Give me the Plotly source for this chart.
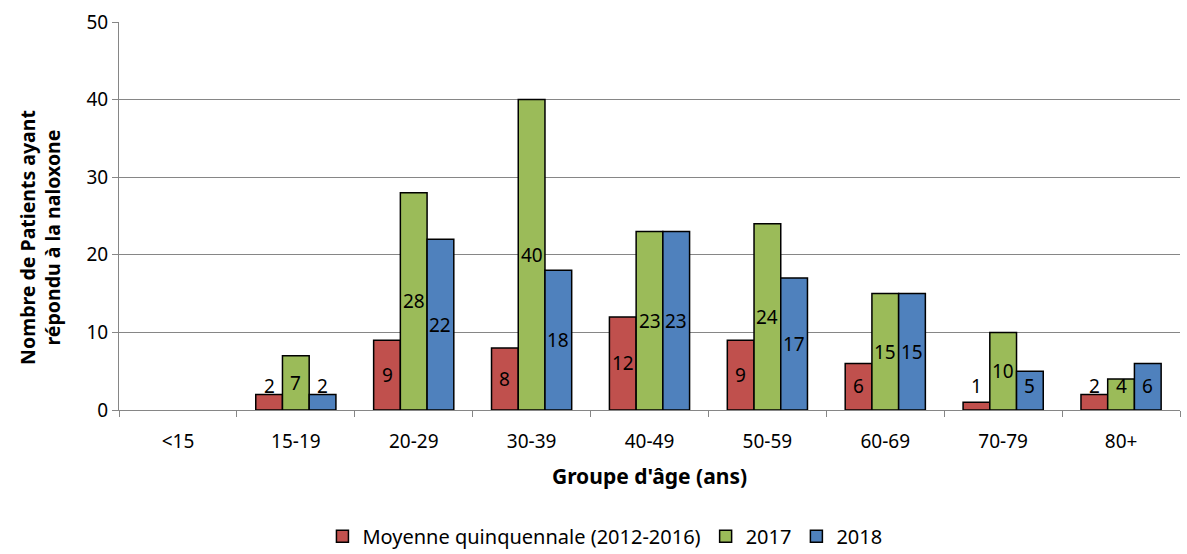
import plotly.graph_objects as go

categories = ["<15", "15-19", "20-29", "30-39", "40-49", "50-59", "60-69", "70-79", "80+"]
moyenne = [None, 2, 9, 8, 12, 9, 6, 1, 2]
y2017 = [None, 7, 28, 40, 23, 24, 15, 10, 4]
y2018 = [None, 2, 22, 18, 23, 17, 15, 5, 6]

series_names = ["Moyenne quinquennale (2012-2016)", "2017", "2018"]
series_values = [moyenne, y2017, y2018]
colors = ["#C0504D", "#9BBB59", "#4F81BD"]

FONT = "Noto Sans, Open Sans, sans-serif"
BARGAP = 0.32

fig = go.Figure()
for name, vals, col in zip(series_names, series_values, colors):
    fig.add_trace(go.Bar(
        x=categories, y=vals, name=name,
        marker=dict(color=col, line=dict(color="#000000", width=1.5)),
        hoverinfo="x+y+name",
    ))

# value labels centred on each bar, kept above the baseline for short bars
bar_w = (1 - BARGAP) / len(series_values)
annotations = []
for s, vals in enumerate(series_values):
    offset = (s - (len(series_values) - 1) / 2) * bar_w
    for i, v in enumerate(vals):
        if v is None:
            continue
        annotations.append(dict(
            x=i + offset, y=max(v / 2, 3.05), xref="x", yref="y",
            text=str(v), showarrow=False,
            font=dict(family=FONT, size=19, color="#000000"),
            xanchor="center", yanchor="middle",
        ))

# vertical y-axis title
annotations.append(dict(
    x=-0.0745, y=0.446, xref="paper", yref="paper",
    text="<b>Nombre de Patients ayant<br>répondu à la naloxone</b>",
    textangle=-90, showarrow=False, xanchor="center", yanchor="middle",
    font=dict(family=FONT, size=19.5, color="#000000"),
))

fig.update_layout(
    width=1187, height=554,
    margin=dict(l=119, r=7, t=22, b=144, autoexpand=False),
    paper_bgcolor="white", plot_bgcolor="white",
    barmode="group", bargap=BARGAP, bargroupgap=0,
    font=dict(family=FONT, size=18, color="#000000"),
    annotations=annotations,
    legend=dict(
        orientation="h", x=0.458, xanchor="center", y=-0.275, yanchor="top",
        font=dict(family=FONT, size=20, color="#000000"),
        itemwidth=30, traceorder="normal",
    ),
    xaxis=dict(
        type="category",
        showline=True, linecolor="#868686", linewidth=1,
        ticks="outside", ticklen=6, tickcolor="#868686", tickson="boundaries",
        showgrid=False,
        ticklabelstandoff=14,
        tickfont=dict(family=FONT, size=19),
        title=dict(text="<b>Groupe d'âge (ans)</b>", font=dict(family=FONT, size=21), standoff=16),
    ),
    yaxis=dict(
        range=[0, 50], dtick=10,
        showline=True, linecolor="#868686", linewidth=1,
        ticks="outside", ticklen=6, tickcolor="#868686",
        showgrid=True, gridcolor="#868686", gridwidth=1,
        zeroline=False,
        tickfont=dict(family=FONT, size=19),
    ),
)

fig.write_html("out.html")
